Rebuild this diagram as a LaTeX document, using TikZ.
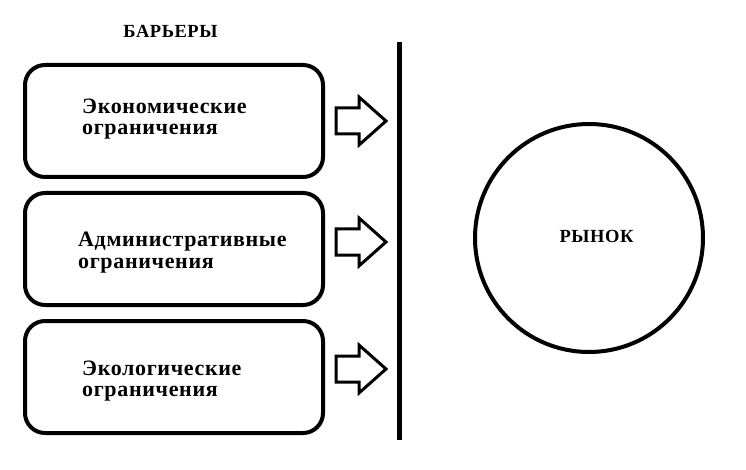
\documentclass[tikz,border=0pt]{standalone}
\usepackage{fontspec}
\setmainfont{Liberation Serif}[LetterSpace=3]
\begin{document}
\begin{tikzpicture}[x=1pt,y=-1pt,
  barrier/.style={draw,line width=4pt,rounded corners=20pt,minimum width=298pt,minimum height=112pt},
  lbl/.style={font=\bfseries\fontsize{22}{21}\selectfont,anchor=base west,inner sep=0pt},
  head/.style={font=\bfseries\fontsize{18.5}{20}\selectfont,inner sep=0pt,anchor=base},
  fatarrow/.style={draw,line width=3pt,line join=miter}]
\useasboundingbox (0,0) rectangle (746,470);
\node[barrier] (b1) at (174,121) {};
\node[barrier] (b2) at (174,249) {};
\node[barrier] (b3) at (174,377) {};
\node[head] (title) at (170.5,38) {БАРЬЕРЫ};
\node[lbl] (t1a) at (82,114) {Экономические};
\node[lbl] (t1b) at (82,135) {ограничения};
\node[lbl] (t2a) at (78,247) {Административные};
\node[lbl] (t2b) at (78,268) {ограничения};
\node[lbl] (t3a) at (82,375) {Экологические};
\node[lbl] (t3b) at (82,396) {ограничения};
\coordinate (ltop) at (399,42);
\coordinate (lbot) at (399,440);
\draw[line width=5pt] (ltop) -- (lbot);
\node[draw,circle,line width=4pt,minimum size=228pt] (market) at (589,238) {};
\node[head] (mlabel) at (596.5,243) {РЫНОК};
\foreach \y/\n in {121/a1,242/a2,369/a3}{
  \draw[fatarrow] (336,\y-13) -- (359,\y-13) -- (359,\y-24) -- (386,\y) -- (359,\y+24) -- (359,\y+13) -- (336,\y+13) -- cycle;
}
\end{tikzpicture}
\end{document}
